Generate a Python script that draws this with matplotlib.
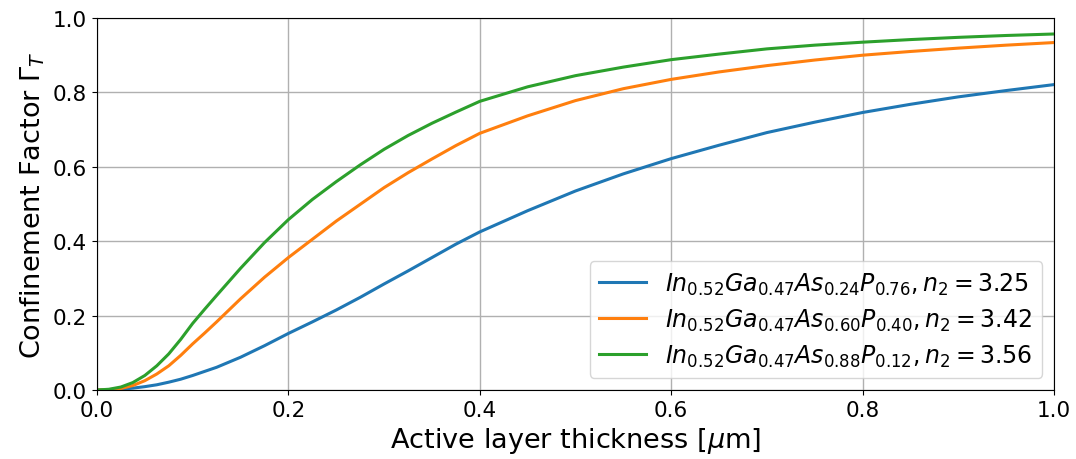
import numpy as np
import matplotlib
matplotlib.use("Agg")
import matplotlib.pyplot as plt

# values (thickness in um, confinement factor)
thickness = [0.0, 0.0125, 0.025, 0.0375, 0.05, 0.0625, 0.075, 0.0875, 0.1,
             0.1125, 0.125, 0.15, 0.175, 0.2, 0.225, 0.25, 0.275, 0.3, 0.325,
             0.35, 0.375, 0.4, 0.45, 0.5, 0.55, 0.6, 0.65, 0.7, 0.75, 0.8,
             0.85, 0.9, 0.95, 1.0]

gamma_325 = [0.0, 0.0005, 0.002, 0.005, 0.009, 0.014, 0.021, 0.029, 0.039,
             0.05, 0.061, 0.088, 0.119, 0.152, 0.183, 0.215, 0.249, 0.285,
             0.32, 0.356, 0.392, 0.425, 0.482, 0.535, 0.581, 0.622, 0.658,
             0.692, 0.72, 0.746, 0.768, 0.788, 0.805, 0.821]
gamma_342 = [0.0, 0.001, 0.004, 0.012, 0.025, 0.043, 0.065, 0.093, 0.124,
             0.153, 0.183, 0.245, 0.303, 0.356, 0.405, 0.454, 0.499, 0.544,
             0.584, 0.621, 0.657, 0.69, 0.737, 0.778, 0.81, 0.835, 0.855,
             0.872, 0.887, 0.9, 0.91, 0.919, 0.927, 0.934]
gamma_356 = [0.0, 0.002, 0.008, 0.02, 0.039, 0.065, 0.097, 0.136, 0.179,
             0.217, 0.254, 0.327, 0.396, 0.458, 0.512, 0.56, 0.605, 0.647,
             0.684, 0.717, 0.747, 0.776, 0.815, 0.845, 0.868, 0.888, 0.903,
             0.917, 0.927, 0.935, 0.942, 0.948, 0.953, 0.957]

labels = [r"$In_{0.52}Ga_{0.47}As_{0.24}P_{0.76}, n_2 = 3.25$",
          r"$In_{0.52}Ga_{0.47}As_{0.60}P_{0.40}, n_2 = 3.42$",
          r"$In_{0.52}Ga_{0.47}As_{0.88}P_{0.12}, n_2 = 3.56$"]

fig = plt.figure(figsize=(10.76, 4.6), dpi=100)
ax = fig.add_axes([0.0901, 0.15, 0.8895, 0.8087])

for g, lab in zip([gamma_325, gamma_342, gamma_356], labels):
    ax.plot(thickness, g, lw=2.2, label=lab)

ax.set_xlim(0, 1)
ax.set_ylim(0, 1)
ax.grid(True, color="#b0b0b0", lw=1)
ax.tick_params(labelsize=15.5)
ax.set_xlabel(r"Active layer thickness [$\mu$m]", fontsize=19.5)
ax.set_ylabel(r"Confinement Factor $\Gamma_T$", fontsize=19.5)
ax.legend(loc="lower right", fontsize=17, labelspacing=0.42)

fig.savefig("out.png", dpi=100)
